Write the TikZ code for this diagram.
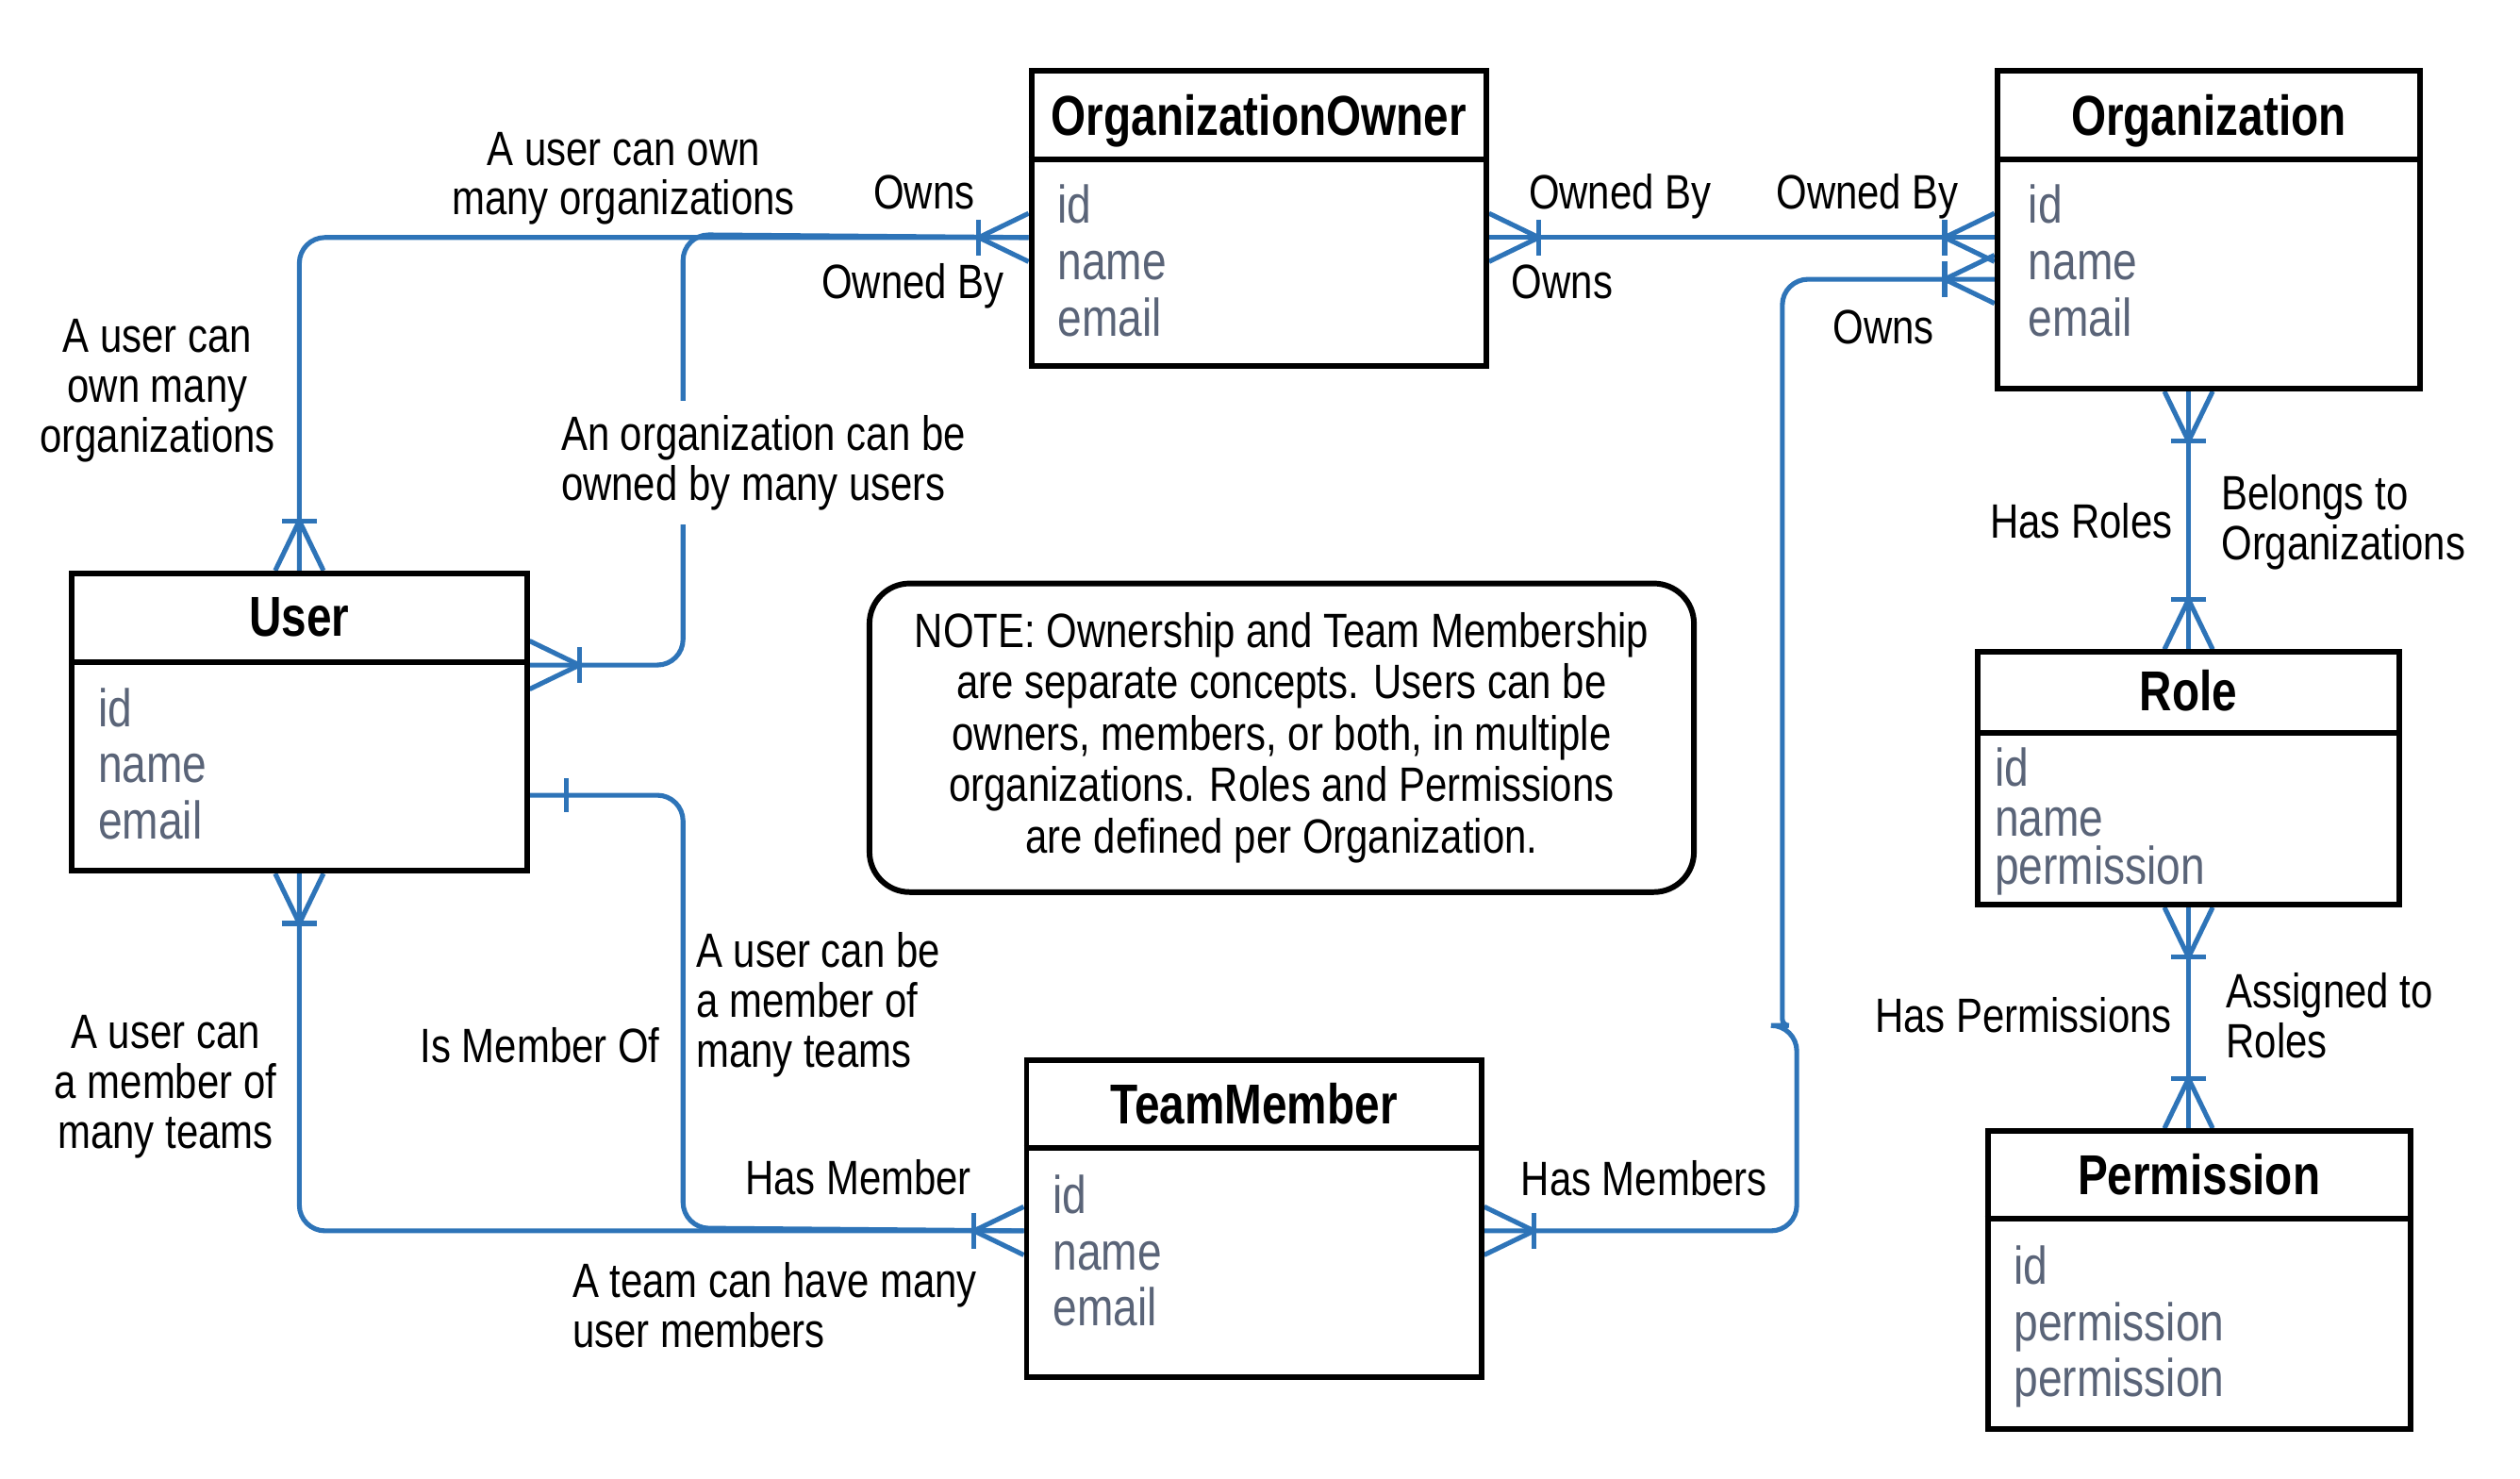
\documentclass[tikz,border=0pt]{standalone}
\usepackage{fontspec}
\setmainfont{Liberation Sans}[FakeStretch=0.82]
\newfontfamily\titlefont{Liberation Sans}[FakeStretch=0.8]
\usetikzlibrary{calc}
\definecolor{connblue}{HTML}{2E74B8}
\definecolor{attrgray}{HTML}{5A6478}
\pgfdeclarelayer{back}
\pgfdeclarelayer{bg}
\pgfsetlayers{back,bg,main}
\tikzset{
  conn/.style={draw=connblue, line width=3pt},
  ebox/.style={draw=black, line width=3.5pt, fill=white, rectangle, inner sep=0pt, anchor=north west},
  edivider/.style={draw=black, line width=3.5pt},
  etitle/.style={font=\titlefont\bfseries\fontsize{35}{37}\selectfont, anchor=base, inner sep=0pt},
  eattr/.style={font=\fontsize{33}{35}\selectfont, text=attrgray, anchor=base west, inner sep=0pt},
  lbl/.style={font=\fontsize{30}{31}\selectfont, inner sep=0pt},
  notebox/.style={draw=black, line width=3.5pt, rounded corners=25pt, fill=white, align=center,
    font=\fontsize{30}{32}\selectfont, minimum width=513pt, minimum height=192pt, inner sep=0pt},
  crowmany/.pic={\draw[conn] (0,15) -- (31,0) -- (0,-15); \draw[conn] (31,11) -- (31,-11);},
  crowone/.pic={\draw[conn] (23,10.5) -- (23,-10.5);},
}
\begin{document}
\begin{tikzpicture}[x=1pt,y=-1pt]
\useasboundingbox (0,0) rectangle (1568,920);
\begin{pgfonlayer}{back}
\fill[white] (0,0) rectangle (1568,920);
\end{pgfonlayer}

% ---------- entities ----------
\node[ebox, minimum width=283pt, minimum height=184pt] (oo) at (640,42) {};
\draw[edivider] ([yshift=-57pt]oo.north west) -- ([yshift=-57pt]oo.north east);
\node[etitle] (ooT) at ([yshift=-42pt]oo.north) {OrganizationOwner};
\node[eattr] (ooA1) at (658,139) {id};
\node[eattr] (ooA2) at (658,174) {name};
\node[eattr] (ooA3) at (658,209) {email};

\node[ebox, minimum width=263pt, minimum height=198pt] (org) at (1241,42) {};
\draw[edivider] ([yshift=-57pt]org.north west) -- ([yshift=-57pt]org.north east);
\node[etitle] (orgT) at ([yshift=-42pt]org.north) {Organization};
\node[eattr] (orgA1) at (1262,139) {id};
\node[eattr] (orgA2) at (1262,174) {name};
\node[eattr] (orgA3) at (1262,209) {email};

\node[ebox, minimum width=283pt, minimum height=185pt] (user) at (43,355) {};
\draw[edivider] ([yshift=-57pt]user.north west) -- ([yshift=-57pt]user.north east);
\node[etitle] (userT) at ([yshift=-41pt]user.north) {User};
\node[eattr] (userA1) at (61,452) {id};
\node[eattr] (userA2) at (61,487) {name};
\node[eattr] (userA3) at (61,522) {email};

\node[ebox, minimum width=262pt, minimum height=157pt] (role) at (1229,404) {};
\draw[edivider] ([yshift=-52pt]role.north west) -- ([yshift=-52pt]role.north east);
\node[etitle] (roleT) at ([yshift=-38pt]role.north) {Role};
\node[eattr] (roleA1) at (1241,489) {id};
\node[eattr] (roleA2) at (1241,520) {name};
\node[eattr] (roleA3) at (1241,550) {permission};

\node[ebox, minimum width=263pt, minimum height=185pt] (perm) at (1235,702) {};
\draw[edivider] ([yshift=-56pt]perm.north west) -- ([yshift=-56pt]perm.north east);
\node[etitle] (permT) at ([yshift=-41pt]perm.north) {Permission};
\node[eattr] (permA1) at (1253,799) {id};
\node[eattr] (permA2) at (1253,834) {permission};
\node[eattr] (permA3) at (1253,869) {permission};

\node[ebox, minimum width=283pt, minimum height=197pt] (tm) at (637,658) {};
\draw[edivider] ([yshift=-56pt]tm.north west) -- ([yshift=-56pt]tm.north east);
\node[etitle] (tmT) at ([yshift=-41pt]tm.north) {TeamMember};
\node[eattr] (tmA1) at (655,755) {id};
\node[eattr] (tmA2) at (655,790) {name};
\node[eattr] (tmA3) at (655,825) {email};

% ---------- note ----------
\node[notebox] (note) at (797.5,459) {NOTE: Ownership and Team Membership\\are separate concepts. Users can be\\owners, members, or both, in multiple\\organizations. Roles and Permissions\\are defined per Organization.};

% ---------- connectors ----------
\begin{pgfonlayer}{bg}
\draw[conn, rounded corners=16pt] (user.north) |- ([yshift=-12pt]oo.west);
\draw[conn, rounded corners=16pt] ([yshift=35.5pt]user.east) -| (425,146) -- ([yshift=-12pt]oo.west);
\draw[conn] ([yshift=-12pt]oo.east) -- ([yshift=-5pt]org.west);
\draw[conn, rounded corners=16pt] ([yshift=-7.5pt]tm.east) -| (1118,638) [rounded corners=4pt] -| (1109,400) [rounded corners=16pt] |- ([yshift=-31pt]org.west);
\draw[conn, rounded corners=16pt] (user.south) |- ([yshift=-7.5pt]tm.west);
\draw[conn, rounded corners=16pt] ([yshift=-45.5pt]user.east) -| (425,764) -- ([yshift=-7.5pt]tm.west);
\draw[conn] (role.north |- org.south) -- (role.north);
\draw[conn] (role.south) -- (role.south |- perm.north);

\pic[rotate=180] at ([yshift=-12pt]oo.west) {crowmany};
\pic[rotate=90] at (user.north) {crowmany};
\pic at ([yshift=35.5pt]user.east) {crowmany};
\pic at ([yshift=-12pt]oo.east) {crowmany};
\pic[rotate=180] at ([yshift=-5pt]org.west) {crowmany};
\pic[rotate=180] at ([yshift=-31pt]org.west) {crowmany};
\pic at ([yshift=-7.5pt]tm.east) {crowmany};
\pic[rotate=180] at ([yshift=-7.5pt]tm.west) {crowmany};
\pic[rotate=-90] at (user.south) {crowmany};
\pic at ([yshift=-45.5pt]user.east) {crowone};
\pic[rotate=-90] at (role.north |- org.south) {crowmany};
\pic[rotate=90] at (role.north) {crowmany};
\pic[rotate=-90] at (role.south) {crowmany};
\pic[rotate=90] at (role.south |- perm.north) {crowmany};
\end{pgfonlayer}

% ---------- labels ----------
\node[lbl, align=center] (l1) at (388,111) {A user can own\\many organizations};
\node[lbl, anchor=base] (l2) at (575,130) {Owns};
\node[lbl, anchor=base] (l3) at (568,186) {Owned By};
\node[lbl, align=center] (l4) at (98,243) {A user can\\own many\\organizations};
\node[lbl, align=left, anchor=west, fill=white, inner ysep=9pt] (l5) at (349,288) {An organization can be\\owned by many users};
\node[lbl, anchor=base] (l6) at (1008,130) {Owned By};
\node[lbl, anchor=base] (l7) at (972,186) {Owns};
\node[lbl, anchor=base] (l8) at (1162,130) {Owned By};
\node[lbl, anchor=base] (l9) at (1172,214) {Owns};
\node[lbl, anchor=base] (l10) at (1295,335) {Has Roles};
\node[lbl, align=left, anchor=west] (l11) at (1382,325) {Belongs to\\Organizations};
\node[lbl, anchor=base] (l12) at (1259,642) {Has Permissions};
\node[lbl, align=left, anchor=west] (l13) at (1385,632) {Assigned to\\Roles};
\node[lbl, align=center] (l14) at (103,676) {A user can\\a member of\\many teams};
\node[lbl, anchor=base] (l15) at (336,661) {Is Member Of};
\node[lbl, align=left, anchor=west] (l16) at (433,625) {A user can be\\a member of\\many teams};
\node[lbl, anchor=base] (l17) at (534,743) {Has Member};
\node[lbl, align=left, anchor=west] (l18) at (356,812) {A team can have many\\user members};
\node[lbl, anchor=base] (l19) at (1023,744) {Has Members};
\end{tikzpicture}
\end{document}
